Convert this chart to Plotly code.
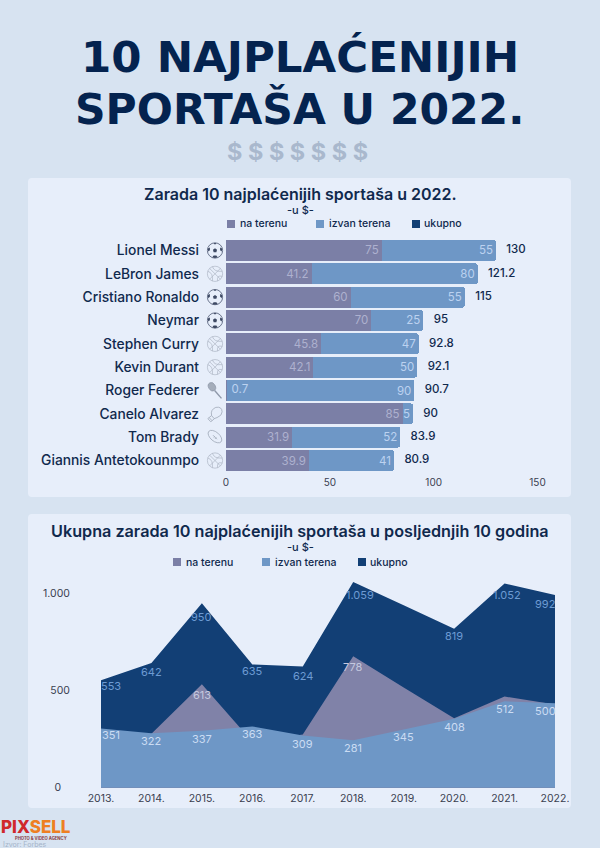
import base64
import plotly.graph_objects as go

# ---- data ----
athletes = ["Lionel Messi", "LeBron James", "Cristiano Ronaldo", "Neymar", "Stephen Curry",
            "Kevin Durant", "Roger Federer", "Canelo Alvarez", "Tom Brady", "Giannis Antetokounmpo"]
sports = ["soccer", "basket", "soccer", "soccer", "basket", "basket", "tennis", "boxing", "football", "basket"]
on_field = [75, 41.2, 60, 70, 45.8, 42.1, 0.7, 85, 31.9, 39.9]
off_field = [55, 80, 55, 25, 47, 50, 90, 5, 52, 41]
totals = [130, 121.2, 115, 95, 92.8, 92.1, 90.7, 90, 83.9, 80.9]
bar_ticks = [0, 50, 100, 150]

years = ["2013.", "2014.", "2015.", "2016.", "2017.", "2018.", "2019.", "2020.", "2021.", "2022."]
total_by_year = [553, 642, 950, 635, 624, 1059, 939, 819, 1052, 992]
on_by_year = [202, 320, 613, 272, 315, 778, 594, 411, 540, 492]
off_by_year = [351, 322, 337, 363, 309, 281, 345, 408, 512, 500]
total_labels = ["553", "642", "950", "635", "624", "1.059", "", "819", "1.052", "992"]
on_labels = ["", "", "613", "", "", "778", "", "", "", ""]
off_labels = ["351", "322", "337", "363", "309", "281", "345", "408", "512", "500"]
area_ticks = [0, 500, 1000]
area_ticktext = ["0\u00a0\u00a0\u00a0", "500", "1.000"]

series_names = ["na terenu", "izvan terena", "ukupno"]

# ---- style ----
W, H = 600, 848
BG = "#d7e3f1"
CARD = "#e7eefa"
PURPLE = "#7b7fa6"
BLUE = "#6e97c6"
DARK = "#123f75"
INK = "#10294d"
FONT = "Inter"
TITLE_FONT = "DejaVu Sans"

# label nudges in screen pixels (right, down), per year index
total_nudge = {0: (10, 6), 1: (0, 9), 2: (0, 14), 3: (0, 7), 4: (0, 9), 5: (7, 13), 7: (0, 7), 8: (2, 12), 9: (-10, 9)}
off_nudge = {0: (10, 7), 9: (-10, 8)}


def px(x):
    return x / W


def py(y):
    return 1 - y / H


def note(text, x, y, size, color=INK, weight=400, anchor="center", family=FONT):
    return dict(text=text, xref="paper", yref="paper", x=px(x), y=py(y), xanchor=anchor, yanchor="middle",
                showarrow=False, font=dict(family=family, size=size, color=color, weight=weight))


def card(x0, y0, x1, y1, r=4):
    a, b, c, d = px(x0), py(y0), px(x1), py(y1)
    rx, ry = r / W, r / H
    path = (f"M{a+rx},{b} L{c-rx},{b} Q{c},{b} {c},{b-ry} L{c},{d+ry} Q{c},{d} {c-rx},{d} "
            f"L{a+rx},{d} Q{a},{d} {a},{d+ry} L{a},{b-ry} Q{a},{b} {a+rx},{b} Z")
    return dict(type="path", path=path, xref="paper", yref="paper", fillcolor=CARD, line_width=0, layer="below")


def swatch(x, y, color, s=8):
    return dict(type="rect", xref="paper", yref="paper", x0=px(x), x1=px(x + s), y0=py(y + s / 2), y1=py(y - s / 2),
                fillcolor=color, line_width=0)


def area_labels(labels, values, yaxis, color, nudge, default):
    out = []
    for i, (lab, val) in enumerate(zip(labels, values)):
        if not lab:
            continue
        dx, dy = nudge.get(i, (0, default))
        out.append(dict(text=lab, xref="x2", yref=yaxis, x=i, y=val, xshift=dx, yshift=-dy, showarrow=False,
                        xanchor="center", yanchor="middle", font=dict(family=FONT, size=11, color=color)))
    return out


ICONS = {
    "soccer": ('<circle cx="50" cy="50" r="45" fill="none" stroke="#55607a" stroke-width="5"/>'
               '<path d="M50 37 L62 46 L58 60 L42 60 L38 46Z M42 6 L50 16 L58 6Z M8 38 L20 32 L20 48 L10 56Z '
               'M92 38 L80 32 L80 48 L90 56Z M34 90 L42 80 L58 80 L66 90 L50 95Z" fill="#3d4963"/>'),
    "basket": ('<g fill="none" stroke="#a4adbc" stroke-width="3.5"><circle cx="50" cy="50" r="45"/>'
               '<path d="M18 18 L82 82 M82 18 L18 82 M8 35 Q40 45 35 92 M35 8 Q45 40 92 35 M65 92 Q60 55 92 65"/></g>'),
    "tennis": ('<g fill="#a4adbb" stroke="#8d97a8" stroke-width="4"><ellipse cx="32" cy="28" rx="20" ry="26" '
               'transform="rotate(-28 32 28)"/><path d="M48 50 L88 96" stroke-width="8" fill="none"/></g>'),
    "boxing": ('<g fill="none" stroke="#a4adbc" stroke-width="5"><path d="M30 60 Q22 25 55 12 Q90 5 92 38 '
               'Q92 60 62 72 L45 78Z"/><path d="M30 60 L8 78 L25 97 L47 78" /><path d="M16 72 L32 90"/></g>'),
    "football": ('<g fill="none" stroke="#a4adbc" stroke-width="5"><ellipse cx="50" cy="50" rx="50" ry="28" '
                 'transform="rotate(40 50 50) scale(.95)"/><path d="M38 38 L62 62 M42 52 L50 44 M50 60 L58 52"/></g>'),
}


def icon_uri(kind):
    svg = f'<svg xmlns="http://www.w3.org/2000/svg" viewBox="0 0 100 100">{ICONS[kind]}</svg>'
    return "data:image/svg+xml;base64," + base64.b64encode(svg.encode()).decode()


fig = go.Figure()

# ---- bar chart ----
bar_text_on = ["" if v < 1 else str(v) for v in on_field]
fig.add_trace(go.Bar(y=athletes, x=on_field, name=series_names[0], orientation="h", marker=dict(color=PURPLE, line_width=0),
                     text=bar_text_on, textposition="inside", insidetextanchor="end", textangle=0, constraintext="none",
                     insidetextfont=dict(family=FONT, size=11.5, color="#aeb1cf"), showlegend=False,
                     xaxis="x", yaxis="y"))
fig.add_trace(go.Bar(y=athletes, x=off_field, name=series_names[1], orientation="h", marker=dict(color=BLUE, line_width=0),
                     text=[str(v) for v in off_field], textposition="inside", insidetextanchor="end", textangle=0,
                     constraintext="none", insidetextfont=dict(family=FONT, size=11.5, color="#bcd2f0"), showlegend=False,
                     xaxis="x", yaxis="y"))
small = [(a, v) for a, v in zip(athletes, on_field) if v < 1]
fig.add_trace(go.Scatter(y=[a for a, _ in small], x=[v for _, v in small], mode="markers+text",
                         text=[str(v) for _, v in small], marker=dict(size=5, opacity=0),
                         textposition="middle right", textfont=dict(family=FONT, size=11.5, color="#bcd2f0"),
                         showlegend=False, cliponaxis=False, xaxis="x", yaxis="y"))
fig.add_trace(go.Scatter(y=athletes, x=totals, mode="markers+text", name=series_names[2], text=[str(v) for v in totals],
                         textposition="middle right", marker=dict(size=15, opacity=0),
                         textfont=dict(family=FONT, size=11.5, color=INK, weight=500),
                         showlegend=False, cliponaxis=False, xaxis="x", yaxis="y"))

# ---- area chart ----
fig.add_trace(go.Scatter(x=years, y=total_by_year, mode="none", name=series_names[2], fill="tozeroy",
                         fillcolor=DARK, showlegend=False, xaxis="x2", yaxis="y2"))
fig.add_trace(go.Scatter(x=years, y=on_by_year, mode="none", name=series_names[0], fill="tozeroy",
                         fillcolor="#8082a8", showlegend=False, xaxis="x2", yaxis="y3"))
fig.add_trace(go.Scatter(x=years, y=off_by_year, mode="none", name=series_names[1], fill="tozeroy",
                         fillcolor=BLUE, showlegend=False, xaxis="x2", yaxis="y3"))

# ---- layout pieces ----
ROW_TOP, ROW_BOTTOM = 238.8, 472.2
row_h = (ROW_BOTTOM - ROW_TOP) / len(athletes)
images = [dict(source=icon_uri(k), xref="paper", yref="paper", x=px(215), y=py(ROW_TOP + (i + .5) * row_h),
               sizex=px(17), sizey=17 / H, xanchor="center", yanchor="middle", sizing="contain", layer="above")
          for i, k in enumerate(sports)]

shapes = [card(28, 178, 571, 497), card(28, 514, 571, 808)]
annotations = [
    note("10 NAJPLAĆENIJIH", 300, 57, 43.5, "#04234f", 700, family=TITLE_FONT),
    note("SPORTAŠA U 2022.", 299, 108.5, 42.5, "#04234f", 700, family=TITLE_FONT),
    note("$ $ $ $ $ $ $", 297, 152, 23.5, "#a9b8cd", 700),
    note("Zarada 10 najplaćenijih sportaša u 2022.", 300, 193.5, 16, INK, 600),
    note("-u $-", 300, 209.5, 11, INK, 500),
    note("Ukupna zarada 10 najplaćenijih sportaša u posljednjih 10 godina", 300, 531, 16.2, INK, 600),
    note("-u $-", 300, 547, 11, INK, 500),
    note('<span style="color:#d0282c">PIX</span><span style="color:#ee7f22">SELL</span>', -1, 827, 17,
         "#d0282c", 800, "left"),
    note("PHOTO &amp; VIDEO AGENCY", 13, 838, 4.2, "#8a3b3b", 700, "left"),
    note("Izvor: Forbes", 1, 844, 7, "#a4b3c8", 400, "left"),
]
annotations += area_labels(total_labels, total_by_year, "y2", "#6d9bd3", total_nudge, 9)
annotations += area_labels(on_labels, on_by_year, "y3", "#c5c8df", {}, 11)
annotations += area_labels(off_labels, off_by_year, "y3", "#cbdcf3", off_nudge, 8)

for (sx, tx), (sx2, tx2), name, col in zip([(227, 238), (316, 327), (412, 422)], [(173, 184), (262, 273), (358, 368)],
                                           series_names, [PURPLE, BLUE, DARK]):
    shapes += [swatch(sx, 224, col), swatch(sx2, 562, col)]
    annotations += [note(name, tx, 224, 10.5, INK, 500, "left"), note(name, tx2, 562, 10.5, INK, 500, "left")]

fig.update_layout(
    template="none",
    width=W, height=H, margin=dict(l=0, r=0, t=0, b=0, pad=0), autosize=False,
    paper_bgcolor=BG, plot_bgcolor="rgba(0,0,0,0)", barmode="stack", bargap=0.11, barcornerradius=2,
    showlegend=False, shapes=shapes, annotations=annotations, images=images,
    font=dict(family=FONT, color="#333a4a"),
    xaxis=dict(domain=[px(226), px(537.5)], range=[0, 150], anchor="y", tickvals=bar_ticks, showgrid=False,
               zeroline=False, showline=False, ticks="", tickfont=dict(size=10, color="#3a4050"), ticklabelstandoff=3,
               automargin=False),
    yaxis=dict(domain=[py(ROW_BOTTOM), py(ROW_TOP)], anchor="x", categoryorder="array", categoryarray=athletes,
               range=[len(athletes) - .5, -.5], showgrid=False, zeroline=False, showline=False, ticks="",
               tickfont=dict(size=13.8, color=INK, weight=500), ticklabelstandoff=26, automargin=False),
    xaxis2=dict(domain=[px(101), px(555)], range=[0, 9], type="category", categoryorder="array", categoryarray=years,
                anchor="y2", showgrid=False, zeroline=False, showline=False, ticks="",
                tickfont=dict(size=10.5, color="#3a4050"), ticklabelstandoff=3, automargin=False),
    yaxis2=dict(domain=[py(787.7), py(574.1)], range=[0, 1100], anchor="x2", tickvals=area_ticks,
                ticktext=area_ticktext, showgrid=False, zeroline=False, showline=False, ticks="",
                tickfont=dict(size=10.5, color="#3a4050"), ticklabelstandoff=30, automargin=False),
    yaxis3=dict(domain=[py(787.7), py(574.1)], range=[0, 1100 * 1.15], anchor="x2", overlaying="y2", visible=False,
                automargin=False),
)

fig.write_html("out.html", config={"displayModeBar": False},
               post_script="document.body.style.margin='0';document.body.style.overflow='hidden';")
